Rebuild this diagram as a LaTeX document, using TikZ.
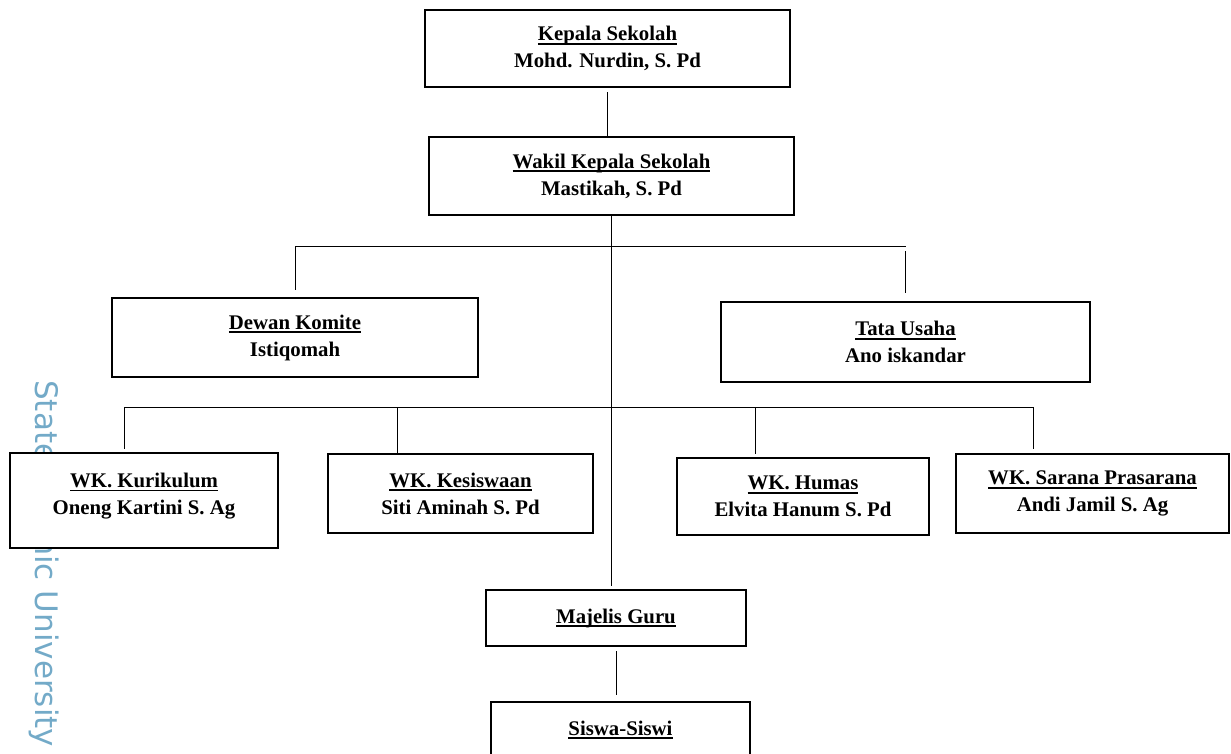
\documentclass[tikz,border=0pt]{standalone}
\usepackage{fontspec}
\setmainfont{Liberation Serif}
\newfontfamily\wmfamily{DejaVu Sans}
\usepackage{tikz}
\usetikzlibrary{positioning,calc}
\definecolor{wmblue}{RGB}{115, 170, 200}
\newcommand{\orgfont}{\bfseries\fontsize{20.8}{27}\selectfont}
\newcommand{\wmfont}{\wmfamily\fontsize{31}{36}\selectfont}
\newlength\undlwd
\newcommand{\undl}[1]{\settowidth{\undlwd}{#1}\rlap{\rule[-4.2pt]{\undlwd}{1.9pt}}#1}
\tikzset{
    org box/.style={rectangle, draw=black, line width=2pt, fill=white, align=center, font=\orgfont, inner sep=2pt},
    org link/.style={draw=black, line width=1pt},
    watermark/.style={text=wmblue, font=\wmfont, inner sep=0pt}
}

\begin{document}
\begin{tikzpicture}[x=1pt, y=-1pt]
    \useasboundingbox (0,0) rectangle (1231,753);

    % Watermark behind the chart
    \node[watermark, rotate=-90, anchor=base west] (wmark) at (35,380) {State Islamic University};

    % Kepala and Wakil
    \node[org box, minimum width=365pt, minimum height=77pt] (kepala) at (607.5,48.5) {\undl{Kepala Sekolah}\\Mohd. Nurdin, S. Pd};
    \node[org box, minimum width=365pt, minimum height=78pt] (wakil) at (611.5,176) {\undl{Wakil Kepala Sekolah}\\Mastikah, S. Pd};

    % Dewan Komite and Tata Usaha
    \node[org box, minimum width=366pt, minimum height=79pt] (dewan) at (295,337.5) {\undl{Dewan Komite}\\Istiqomah};
    \node[org box, minimum width=369pt, minimum height=80pt] (tata) at (905.5,342) {\undl{Tata Usaha}\\Ano iskandar};

    % Wakil kepala bidang
    \node[org box, minimum width=268pt, minimum height=95pt, text height=41.5pt, text depth=14pt] (kurik) at (144,500.5) {\undl{WK. Kurikulum}\\Oneng Kartini S. Ag};
    \node[org box, minimum width=265pt, minimum height=79pt] (kesis) at (460.5,493.5) {\undl{WK. Kesiswaan}\\Siti Aminah S. Pd};
    \node[org box, minimum width=252pt, minimum height=77pt] (humas) at (803,496.5) {\undl{WK. Humas}\\Elvita Hanum S. Pd};
    \node[org box, minimum width=273pt, minimum height=79pt] (sarana) at (1092.5,493.5) {\undl{WK. Sarana Prasarana}\\Andi Jamil S. Ag};

    % Majelis Guru and Siswa
    \node[org box, minimum width=260pt, minimum height=56pt] (majelis) at (616,618) {\undl{Majelis Guru}};
    \node[org box, minimum width=259pt, minimum height=56pt] (siswa) at (620.5,730) {\undl{Siswa-Siswi}};

    % Bus lines
    \coordinate (bus1) at (612,246);
    \coordinate (d1) at (124,407);
    \coordinate (d2) at (397,407);
    \coordinate (d3) at (755,407);
    \coordinate (d4) at (1033,407);

    % Connectors
    \draw[org link, shorten <=4pt] (kepala.south) -- (kepala.south |- wakil.north);
    \draw[org link, shorten >=3pt] (wakil.south) -- (wakil.south |- majelis.north);
    \draw[org link] (dewan.north |- bus1) -- (tata.north |- bus1);
    \draw[org link, shorten >=7pt] (dewan.north |- bus1) -- (dewan.north);
    \draw[org link, shorten <=5pt, shorten >=8pt] (tata.north |- bus1) -- (tata.north);
    \draw[org link] (d1) -- (d4);
    \draw[org link, shorten >=3pt] (d1) -- (d1 |- kurik.north);
    \draw[org link] (d2) -- (d2 |- kesis.north);
    \draw[org link, shorten >=3pt] (d3) -- (d3 |- humas.north);
    \draw[org link, shorten >=4pt] (d4) -- (d4 |- sarana.north);
    \draw[org link, shorten <=4pt, shorten >=6pt] (majelis.south) -- (majelis.south |- siswa.north);
\end{tikzpicture}
\end{document}
